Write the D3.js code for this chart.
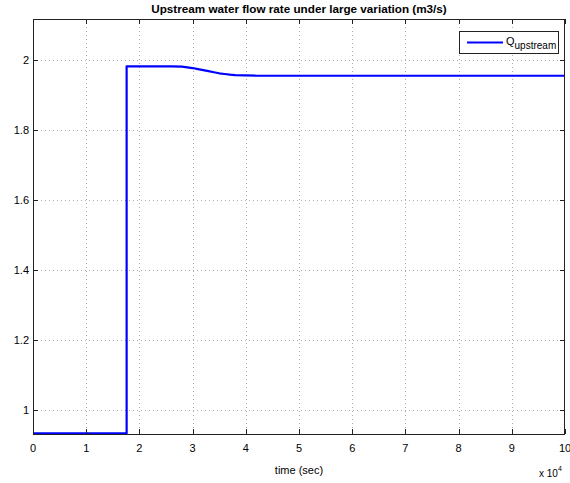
<!DOCTYPE html>
<html>
<head>
<meta charset="utf-8">
<script src="https://cdn.jsdelivr.net/npm/d3@7"></script>
<style>
  body { margin: 0; background: #fff; }
  svg { display: block; font-family: "Liberation Sans", Arial, Helvetica, sans-serif; }
</style>
</head>
<body>
<div class="chart"></div>
<script>
// time in seconds, flow in m3/s
const time = [0, 17600, 17600, 20000, 26000, 28000, 29000, 30000, 31000, 32000, 33000, 34000, 35000, 36000, 37000, 38000, 40000, 42000, 45000, 100000];
const flow = [0.933, 0.933, 1.982, 1.982, 1.982, 1.981, 1.979, 1.977, 1.974, 1.971, 1.968, 1.965, 1.962, 1.960, 1.958, 1.957, 1.956, 1.955, 1.955, 1.955];
const xTicks = [0, 1, 2, 3, 4, 5, 6, 7, 8, 9, 10];
const yTicks = [1, 1.2, 1.4, 1.6, 1.8, 2];

const width = 570;
const height = 483;
const pLeft = 33, pRight = 565, pTop = 19, pBottom = 434;

const svg = d3.select(".chart").append("svg")
  .attr("width", width)
  .attr("height", height);

const x = d3.scaleLinear().domain([0, 100000]).range([pLeft, pRight]);
const y = d3.scaleLinear().domain([0.9314, 2.1171]).range([pBottom, pTop]);

// grid
const grid = svg.append("g")
  .attr("stroke", "#999")
  .attr("stroke-width", 0.8)
  .attr("stroke-dasharray", "1,3");
grid.selectAll("line.gx")
  .data(xTicks.slice(1, -1))
  .enter().append("line")
  .attr("x1", d => Math.round(x(d * 1e4)) + 0.5).attr("x2", d => Math.round(x(d * 1e4)) + 0.5)
  .attr("y1", pTop).attr("y2", pBottom);
grid.selectAll("line.gy")
  .data(yTicks)
  .enter().append("line")
  .attr("x1", pLeft).attr("x2", pRight)
  .attr("y1", d => Math.round(y(d)) + 0.5).attr("y2", d => Math.round(y(d)) + 0.5);

// series
const line = d3.line()
  .x((d, i) => x(time[i]))
  .y(d => y(d));
svg.append("path")
  .datum(flow)
  .attr("d", line)
  .attr("fill", "none")
  .attr("stroke", "#0000ff")
  .attr("stroke-width", 2.2)
  .attr("stroke-linejoin", "round");

// box + ticks
const ax = svg.append("g").attr("stroke", "#222").attr("stroke-width", 1);
ax.append("rect")
  .attr("x", pLeft + 0.5).attr("y", pTop + 0.5)
  .attr("width", pRight - pLeft - 1).attr("height", pBottom - pTop)
  .attr("fill", "none");

xTicks.forEach(t => {
  const px = Math.round(x(t * 1e4)) + 0.5;
  ax.append("line").attr("x1", px).attr("x2", px).attr("y1", pBottom).attr("y2", pBottom - 5);
  ax.append("line").attr("x1", px).attr("x2", px).attr("y1", pTop).attr("y2", pTop + 5);
});
yTicks.forEach(t => {
  const py = Math.round(y(t)) + 0.5;
  ax.append("line").attr("x1", pLeft).attr("x2", pLeft + 5).attr("y1", py).attr("y2", py);
  ax.append("line").attr("x1", pRight).attr("x2", pRight - 5).attr("y1", py).attr("y2", py);
});

// tick labels
svg.selectAll("text.xt")
  .data(xTicks)
  .enter().append("text")
  .attr("x", d => x(d * 1e4))
  .attr("y", 452)
  .attr("text-anchor", "middle")
  .attr("font-size", 11)
  .text(d => d);

svg.selectAll("text.yt")
  .data(yTicks)
  .enter().append("text")
  .attr("x", pLeft - 4)
  .attr("y", d => y(d) + 4)
  .attr("text-anchor", "end")
  .attr("font-size", 11)
  .text(d => d);

// exponent
const ex = svg.append("text").attr("x", 539).attr("y", 477).attr("font-size", 10);
ex.append("tspan").text("x 10");
ex.append("tspan").attr("dy", -6).attr("font-size", 7).text("4");

// axis label and title
svg.append("text")
  .attr("x", (pLeft + pRight) / 2).attr("y", 474)
  .attr("text-anchor", "middle")
  .attr("font-size", 11)
  .text("time (sec)");

svg.append("text")
  .attr("x", (pLeft + pRight) / 2).attr("y", 13)
  .attr("text-anchor", "middle")
  .attr("font-size", 11.7)
  .attr("font-weight", "bold")
  .text("Upstream water flow rate under large variation (m3/s)");

// legend
const lg = svg.append("g");
lg.append("rect")
  .attr("x", 459.5).attr("y", 31.5).attr("width", 99).attr("height", 22)
  .attr("fill", "#fff").attr("stroke", "#222").attr("stroke-width", 1);
lg.append("line")
  .attr("x1", 467).attr("x2", 503).attr("y1", 42.5).attr("y2", 42.5)
  .attr("stroke", "#0000ff").attr("stroke-width", 2.2);
const lt = lg.append("text").attr("x", 506).attr("y", 45).attr("font-size", 11);
lt.append("tspan").text("Q");
lt.append("tspan").attr("dy", 4).attr("font-size", 10).text("upstream");
</script>
</body>
</html>
